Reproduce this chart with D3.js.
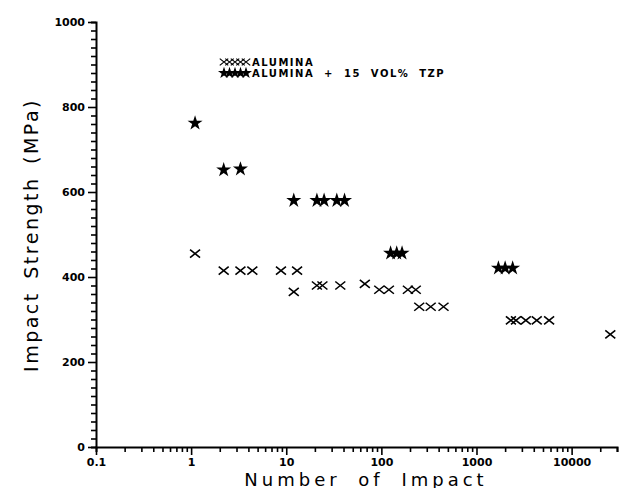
<!DOCTYPE html>
<html>
<head>
<meta charset="utf-8">
<script src="https://cdn.jsdelivr.net/npm/d3@7"></script>
<style>
  body { margin: 0; background: #fff; }
  text { font-family: "DejaVu Sans", sans-serif; fill: #000; }
</style>
</head>
<body>
<div id="chart"></div>
<script>
// number of impacts / impact strength (MPa)
var aluminaImpacts  = [1.1, 2.2, 3.3, 4.4, 8.8, 13, 12, 21, 24, 37, 67, 95, 120, 190, 230, 250, 330, 450, 2300, 2600, 3300, 4300, 5800, 25500];
var aluminaStrength = [455, 415, 415, 415, 415, 415, 365, 380, 380, 380, 384, 370, 370, 370, 370, 330, 330, 330, 298, 298, 298, 298, 298, 265];

var tzpImpacts  = [1.1, 2.2, 3.3, 12, 21, 25, 34, 41, 125, 145, 165, 1700, 2000, 2400];
var tzpStrength = [762, 652, 654, 580, 580, 580, 580, 580, 456, 456, 456, 421, 421, 421];

var xTickLabels = ["0.1", "1", "10", "100", "1000", "10000"];
var yTickLabels = ["0", "200", "400", "600", "800", "1000"];

var legendLabels = ["ALUMINA", "ALUMINA  +  15  VOL%  TZP"];

var width = 621,
    height = 488;

var svg = d3.select("#chart").append("svg")
    .attr("width", width)
    .attr("height", height);

var x = d3.scaleLog().domain([0.1, 30000]).range([96, 617]);
var y = d3.scaleLinear().domain([0, 1000]).range([447, 22]);

// y axis: minor ticks every 20, labels every 200
var yMinor = d3.range(0, 1001, 20);
var yAxis = d3.axisLeft(y)
    .tickValues(yMinor)
    .tickSize(5)
    .tickFormat(function(d) { return yTickLabels.indexOf(String(d)) >= 0 ? d : ""; });

var gy = svg.append("g")
    .attr("transform", "translate(96,0)")
    .call(yAxis);
gy.select(".domain").attr("stroke-width", 2);
gy.selectAll(".tick line").attr("stroke-width", 1.6)
    .attr("x2", function(d) { return d % 200 === 0 ? -8 : -5; });
gy.selectAll(".tick text")
    .attr("x", -11)
    .style("font-size", "11px")
    .style("font-weight", "bold");

// x axis: log ticks 2..9 per decade
var xTicks = [];
for (var e = -1; e <= 4; e++) {
  for (var m = 1; m <= 9; m++) {
    var v = m * Math.pow(10, e);
    if (v <= 30000) xTicks.push(+v.toPrecision(3));
  }
}
var xAxis = d3.axisBottom(x)
    .tickValues(xTicks)
    .tickSize(5)
    .tickFormat(function(d) { return xTickLabels.indexOf(String(d)) >= 0 ? String(d) : ""; });

var gx = svg.append("g")
    .attr("transform", "translate(0,447)")
    .call(xAxis);
gx.select(".domain").attr("stroke-width", 2);
gx.selectAll(".tick line").attr("stroke-width", 1.6)
    .attr("y2", function(d) { return xTickLabels.indexOf(String(d)) >= 0 ? 8 : 5; });
gx.selectAll(".tick text")
    .attr("y", 11)
    .style("font-size", "11px")
    .style("font-weight", "bold");

// axis titles
svg.append("text")
    .attr("transform", "translate(38,235) rotate(-90)")
    .attr("text-anchor", "middle")
    .style("font-size", "19px")
    .style("letter-spacing", "2.5px")
    .style("word-spacing", "4px")
    .text("Impact Strength (MPa)");

svg.append("text")
    .attr("x", 366)
    .attr("y", 486)
    .attr("text-anchor", "middle")
    .style("font-size", "18px")
    .style("letter-spacing", "4px")
    .style("word-spacing", "8px")
    .text("Number of Impact");

// markers
var crossPath = "M-5,-4L5,4M-5,4L5,-4";
var star = d3.symbol().type(d3.symbolStar).size(70);

var alumina = aluminaImpacts.map(function(n, i) { return {n: n, s: aluminaStrength[i]}; });
var tzp = tzpImpacts.map(function(n, i) { return {n: n, s: tzpStrength[i]}; });

svg.selectAll(".cross")
    .data(alumina)
    .enter().append("path")
    .attr("class", "cross")
    .attr("d", crossPath)
    .attr("transform", function(d) { return "translate(" + x(d.n) + "," + y(d.s) + ")"; })
    .attr("stroke", "#000")
    .attr("stroke-width", 1.6)
    .attr("fill", "none");

svg.selectAll(".star")
    .data(tzp)
    .enter().append("path")
    .attr("class", "star")
    .attr("d", star)
    .attr("transform", function(d) { return "translate(" + x(d.n) + "," + y(d.s) + ")"; })
    .attr("fill", "#000");

// legend
var legend = svg.append("g").attr("transform", "translate(224,0)");
d3.range(5).forEach(function(i) {
  legend.append("path")
      .attr("d", crossPath)
      .attr("transform", "translate(" + (i * 5.5) + ",62) scale(0.85)")
      .attr("stroke", "#000")
      .attr("stroke-width", 1.4)
      .attr("fill", "none");
  legend.append("path")
      .attr("d", d3.symbol().type(d3.symbolStar).size(45))
      .attr("transform", "translate(" + (i * 5.5) + ",73)")
      .attr("fill", "#000");
});
legend.selectAll(".lt")
    .data(legendLabels)
    .enter().append("text")
    .attr("class", "lt")
    .attr("x", 28)
    .attr("y", function(d, i) { return 65.5 + i * 11; })
    .style("font-size", "10px")
    .style("font-weight", "bold")
    .style("letter-spacing", "1.5px")
    .style("white-space", "pre")
    .text(function(d) { return d; });
</script>
</body>
</html>
